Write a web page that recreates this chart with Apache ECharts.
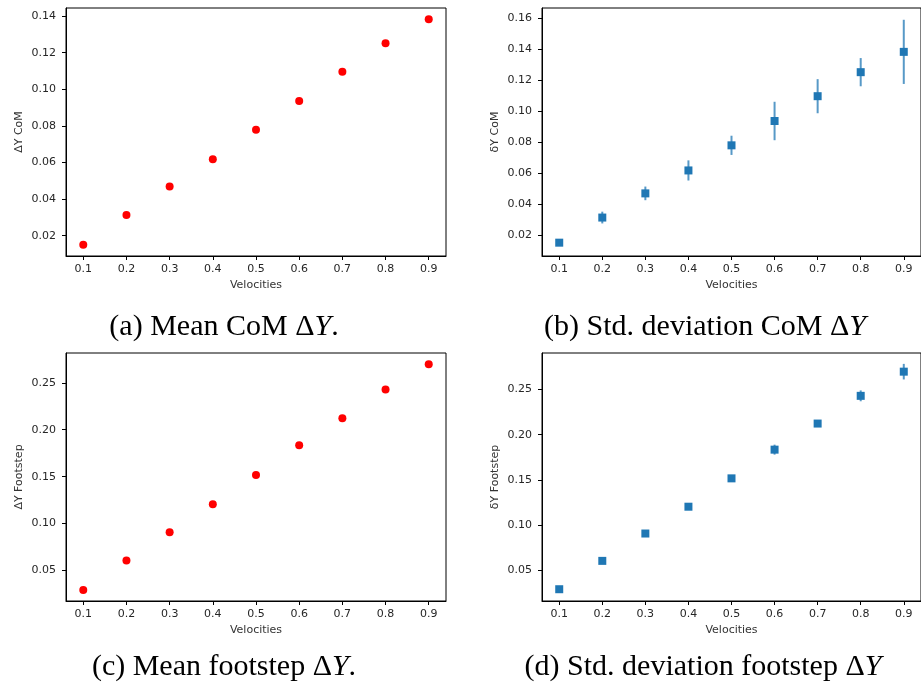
<!DOCTYPE html>
<html>
<head>
<meta charset="utf-8">
<script src="https://cdn.jsdelivr.net/npm/echarts@6/dist/echarts.min.js"></script>
<style>
  html, body { margin: 0; padding: 0; background: #fff; }
  #chart { width: 921px; height: 690px; }
</style>
</head>
<body>
<div id="chart"></div>
<script>
// velocities on the x axis
const velocities = [0.1, 0.2, 0.3, 0.4, 0.5, 0.6, 0.7, 0.8, 0.9]
// CoM delta Y: mean and std deviation
const comMean = [0.0151, 0.0313, 0.0469, 0.0617, 0.0779, 0.0936, 0.1096, 0.1251, 0.1382]
const comStd = [0.0012, 0.0038, 0.0044, 0.0065, 0.0062, 0.0124, 0.011, 0.0091, 0.0207]
// footstep delta Y: mean and std deviation
const footMean = [0.0294, 0.0607, 0.0909, 0.1205, 0.1518, 0.1835, 0.2123, 0.2429, 0.2696]
const footStd = [0.0006, 0.0012, 0.0015, 0.0018, 0.002, 0.0055, 0.0025, 0.006, 0.0086]

// tick labels
const xTicks = [0.1, 0.2, 0.3, 0.4, 0.5, 0.6, 0.7, 0.8, 0.9]
const comTicksA = [0.02, 0.04, 0.06, 0.08, 0.10, 0.12, 0.14]
const comTicksB = [0.02, 0.04, 0.06, 0.08, 0.10, 0.12, 0.14, 0.16]
const footTicks = [0.05, 0.10, 0.15, 0.20, 0.25]

// axis ranges (autoscaled with 5% margins in the original)
const xRange = [0.06, 0.94]
const yRangeA = [0.0089, 0.1444]
const yRangeB = [0.0065, 0.1665]
const yRangeC = [0.0176, 0.2817]
const yRangeD = [0.0164, 0.2902]

const blue = '#1f77b4'
const tickFont = { fontFamily: 'DejaVu Sans', fontSize: 11, color: '#262626' }

function xAxisFor(grid) {
  return {
    type: 'value', gridIndex: grid, min: xRange[0], max: xRange[1],
    name: 'Velocities', nameLocation: 'middle', nameGap: 24,
    nameTextStyle: { fontFamily: 'DejaVu Sans', fontSize: 11, color: '#333' },
    axisLine: { show: true, lineStyle: { color: '#000', width: 1 } },
    axisTick: { show: true, customValues: xTicks, length: 4, lineStyle: { color: '#000' } },
    axisLabel: { customValues: xTicks, margin: 8, ...tickFont, formatter: v => v.toFixed(1) },
    splitLine: { show: false },
  }
}

function yAxisFor(grid, range, ticks, name) {
  return {
    type: 'value', gridIndex: grid, min: range[0], max: range[1],
    name: name, nameLocation: 'middle', nameRotate: 90, nameGap: 41,
    nameTextStyle: { fontFamily: 'DejaVu Sans', fontSize: 11, color: '#333' },
    axisLine: { show: true, lineStyle: { color: '#000', width: 1 } },
    axisTick: { show: true, customValues: ticks, length: 4, lineStyle: { color: '#000' } },
    axisLabel: { customValues: ticks, margin: 10, ...tickFont, formatter: v => v.toFixed(2) },
    splitLine: { show: false },
  }
}

function errorBars(idx, mean, std) {
  return {
    type: 'custom', xAxisIndex: idx, yAxisIndex: idx, z: 2,
    data: velocities.map((v, i) => [v, mean[i] - std[i], mean[i] + std[i]]),
    encode: { x: 0, y: [1, 2] },
    renderItem: function (params, api) {
      const p1 = api.coord([api.value(0), api.value(1)])
      const p2 = api.coord([api.value(0), api.value(2)])
      return {
        type: 'line',
        shape: { x1: p1[0], y1: p1[1], x2: p2[0], y2: p2[1] },
        style: { stroke: blue, lineWidth: 2, opacity: 0.75 },
      }
    },
  }
}

function points(idx, mean, symbol, color, size) {
  return {
    type: 'scatter', xAxisIndex: idx, yAxisIndex: idx, z: 3,
    symbol: symbol, symbolSize: size,
    itemStyle: { color: color, opacity: 1 },
    data: velocities.map((v, i) => [v, mean[i]]),
  }
}

const captionStyle = {
  fontFamily: 'Liberation Serif', fontSize: 30, fontWeight: 'normal', color: '#000',
  rich: { i: { fontFamily: 'Liberation Serif', fontSize: 30, fontStyle: 'italic', color: '#000' } },
}

function caption(text, x, y) {
  return { text: text, left: x, top: y, textAlign: 'center', padding: 0, textStyle: captionStyle }
}

const chart = echarts.init(document.getElementById('chart'), null, { renderer: 'canvas' })
chart.setOption({
  backgroundColor: '#fff',
  animation: false,
  title: [
    caption('(a) Mean CoM Δ{i|Y}.', 224, 312),
    caption('(b) Std. deviation CoM Δ{i|Y}', 705, 312),
    caption('(c) Mean footstep Δ{i|Y}.', 224, 652),
    caption('(d) Std. deviation footstep Δ{i|Y}', 703, 652),
  ],
  grid: [
    { left: 66, top: 8, width: 380, height: 248, show: true, borderColor: '#000', borderWidth: 1, backgroundColor: 'transparent' },
    { left: 542, top: 8, width: 380, height: 248, show: true, borderColor: '#000', borderWidth: 1, backgroundColor: 'transparent' },
    { left: 66, top: 353, width: 380, height: 248, show: true, borderColor: '#000', borderWidth: 1, backgroundColor: 'transparent' },
    { left: 542, top: 353, width: 380, height: 248, show: true, borderColor: '#000', borderWidth: 1, backgroundColor: 'transparent' },
  ],
  xAxis: [xAxisFor(0), xAxisFor(1), xAxisFor(2), xAxisFor(3)],
  yAxis: [
    yAxisFor(0, yRangeA, comTicksA, 'ΔY CoM'),
    yAxisFor(1, yRangeB, comTicksB, 'δY CoM'),
    yAxisFor(2, yRangeC, footTicks, 'ΔY Footstep'),
    yAxisFor(3, yRangeD, footTicks, 'δY Footstep'),
  ],
  series: [
    points(0, comMean, 'circle', '#ff0000', 8),
    errorBars(1, comMean, comStd),
    points(1, comMean, 'rect', blue, 8),
    points(2, footMean, 'circle', '#ff0000', 8),
    errorBars(3, footMean, footStd),
    points(3, footMean, 'rect', blue, 8),
  ],
})
</script>
</body>
</html>
